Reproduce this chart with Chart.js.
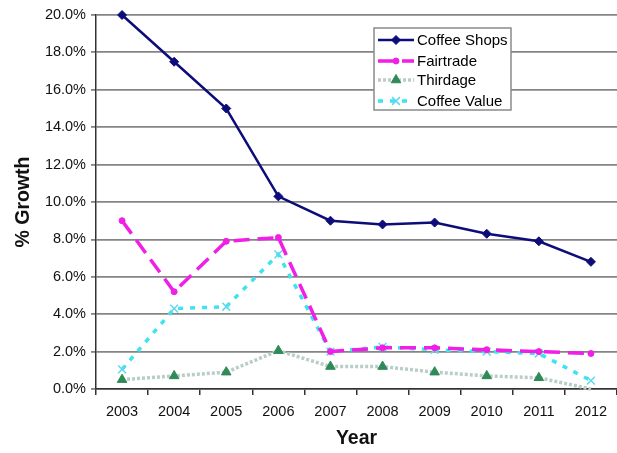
<!DOCTYPE html>
<html>
<head>
<meta charset="utf-8">
<script src="https://cdn.jsdelivr.net/npm/chart.js@4/dist/chart.umd.min.js"></script>
<style>
html,body{margin:0;padding:0;background:#fff;}
#wrap{width:617px;height:453px;position:relative;}
</style>
</head>
<body>
<div id="wrap"><canvas id="c" width="617" height="453"></canvas></div>
<script>
const years = ['2003','2004','2005','2006','2007','2008','2009','2010','2011','2012'];
const coffeeShops = [20.0, 17.5, 15.0, 10.3, 9.0, 8.8, 8.9, 8.3, 7.9, 6.8];
const fairtrade   = [9.0, 5.2, 7.9, 8.1, 2.0, 2.2, 2.2, 2.1, 2.0, 1.9];
const thirdage    = [0.5, 0.7, 0.9, 2.05, 1.2, 1.2, 0.9, 0.7, 0.6, 0.0];
const coffeeValue = [1.05, 4.3, 4.4, 7.2, 2.0, 2.25, 2.1, 2.0, 1.9, 0.45];
const yTicks = [0, 2, 4, 6, 8, 10, 12, 14, 16, 18, 20];

const FONT = "'Liberation Sans', Arial, Helvetica, sans-serif";

const legendBox = {
  id: 'legendBox',
  afterDraw(chart) {
    const ctx = chart.ctx;
    const x0 = 374, y0 = 28, w = 137, h = 82;
    ctx.save();
    ctx.fillStyle = '#fff';
    ctx.fillRect(x0, y0, w, h);
    ctx.strokeStyle = '#8a8a8a';
    ctx.lineWidth = 1.5;
    ctx.strokeRect(x0, y0, w, h);
    const rows = [40, 61, 80, 101];
    chart.data.datasets.forEach((ds, i) => {
      const y = rows[i];
      ctx.save();
      ctx.strokeStyle = ds.borderColor;
      ctx.lineWidth = ds.borderWidth;
      ctx.setLineDash(ds.borderDash || []);
      ctx.beginPath();
      ctx.moveTo(378, y);
      ctx.lineTo(414, y);
      ctx.stroke();
      ctx.setLineDash([]);
      ctx.fillStyle = ds.pointBackgroundColor;
      ctx.strokeStyle = ds.pointBorderColor;
      ctx.lineWidth = ds.pointBorderWidth;
      Chart.helpers.drawPoint(ctx, {
        pointStyle: ds.pointStyle,
        radius: Array.isArray(ds.pointRadius) ? ds.pointRadius[0] : ds.pointRadius,
        rotation: 0,
        borderWidth: ds.pointBorderWidth
      }, 396, y);
      ctx.restore();
      ctx.fillStyle = '#000';
      ctx.font = '15px ' + FONT;
      ctx.textBaseline = 'middle';
      ctx.textAlign = 'left';
      ctx.fillText(ds.label, 417, y + 1);
    });
    ctx.restore();
  }
};

new Chart(document.getElementById('c'), {
  type: 'line',
  data: {
    labels: years,
    datasets: [
      {
        label: 'Coffee Shops',
        data: coffeeShops,
        borderColor: '#0d0d7a',
        borderWidth: 2.5,
        pointStyle: 'rectRot',
        pointRadius: 4.5,
        pointBackgroundColor: '#0d0d7a',
        pointBorderColor: '#0d0d7a',
        pointBorderWidth: 1,
        tension: 0,
        clip: false
      },
      {
        label: 'Fairtrade',
        data: fairtrade,
        borderColor: '#f01ee6',
        borderWidth: 3.5,
        borderDash: [16, 8],
        pointStyle: 'circle',
        pointRadius: 3,
        pointBackgroundColor: '#f01ee6',
        pointBorderColor: '#f01ee6',
        pointBorderWidth: 1,
        tension: 0,
        clip: false
      },
      {
        label: 'Thirdage',
        data: thirdage,
        borderColor: '#b8cec6',
        borderWidth: 3.5,
        borderDash: [3, 2],
        pointStyle: 'triangle',
        pointRadius: [5.5, 5.5, 5.5, 5.5, 5.5, 5.5, 5.5, 5.5, 5.5, 0],
        pointBackgroundColor: '#2f8a58',
        pointBorderColor: '#2f8a58',
        pointBorderWidth: 1,
        tension: 0,
        clip: false
      },
      {
        label: 'Coffee Value',
        data: coffeeValue,
        borderColor: '#3de3f0',
        borderWidth: 3.5,
        borderDash: [5, 7],
        pointStyle: 'crossRot',
        pointRadius: 5.5,
        pointBackgroundColor: '#3de3f0',
        pointBorderColor: '#5fd8f0',
        pointBorderWidth: 1.5,
        tension: 0,
        clip: false
      }
    ]
  },
  options: {
    responsive: false,
    animation: false,
    layout: { autoPadding: false, padding: { left: 0, right: 0, top: 15, bottom: 0 } },
    plugins: {
      legend: { display: false },
      tooltip: { enabled: false }
    },
    scales: {
      x: {
        type: 'category',
        offset: true,
        grid: {
          offset: true,
          drawOnChartArea: false,
          drawTicks: true,
          tickLength: 6,
          color: '#333',
          lineWidth: 1.5
        },
        border: { display: true, color: '#333', width: 1.5 },
        ticks: {
          color: '#111',
          font: { family: FONT, size: 14.5 },
          padding: 8,
          maxRotation: 0,
          autoSkip: false
        },
        title: {
          display: true,
          text: 'Year',
          color: '#111',
          font: { family: FONT, size: 19.5, weight: 'bold' },
          padding: { top: 0, bottom: 2.5 }
        },
        afterFit(scale) {
          scale.height = 64;
          scale.paddingLeft = 0;
          scale.paddingRight = 0;
        }
      },
      y: {
        min: 0,
        max: 20,
        afterBuildTicks(scale) { scale.ticks = yTicks.map(v => ({ value: v })); },
        grid: {
          color: '#858585',
          lineWidth: 1.8,
          drawTicks: true,
          tickLength: 5
        },
        border: { display: true, color: '#333', width: 1.5 },
        ticks: {
          color: '#111',
          font: { family: FONT, size: 14.5 },
          padding: 5,
          callback: v => Number(v).toFixed(1) + '%'
        },
        title: {
          display: true,
          text: '% Growth',
          color: '#111',
          font: { family: FONT, size: 19.5, weight: 'bold' },
          padding: { top: 12, bottom: 0 }
        },
        afterFit(scale) {
          scale.width = 96;
          scale.paddingTop = 0;
          scale.paddingBottom = 0;
        }
      }
    }
  },
  plugins: [legendBox]
});
</script>
</body>
</html>
